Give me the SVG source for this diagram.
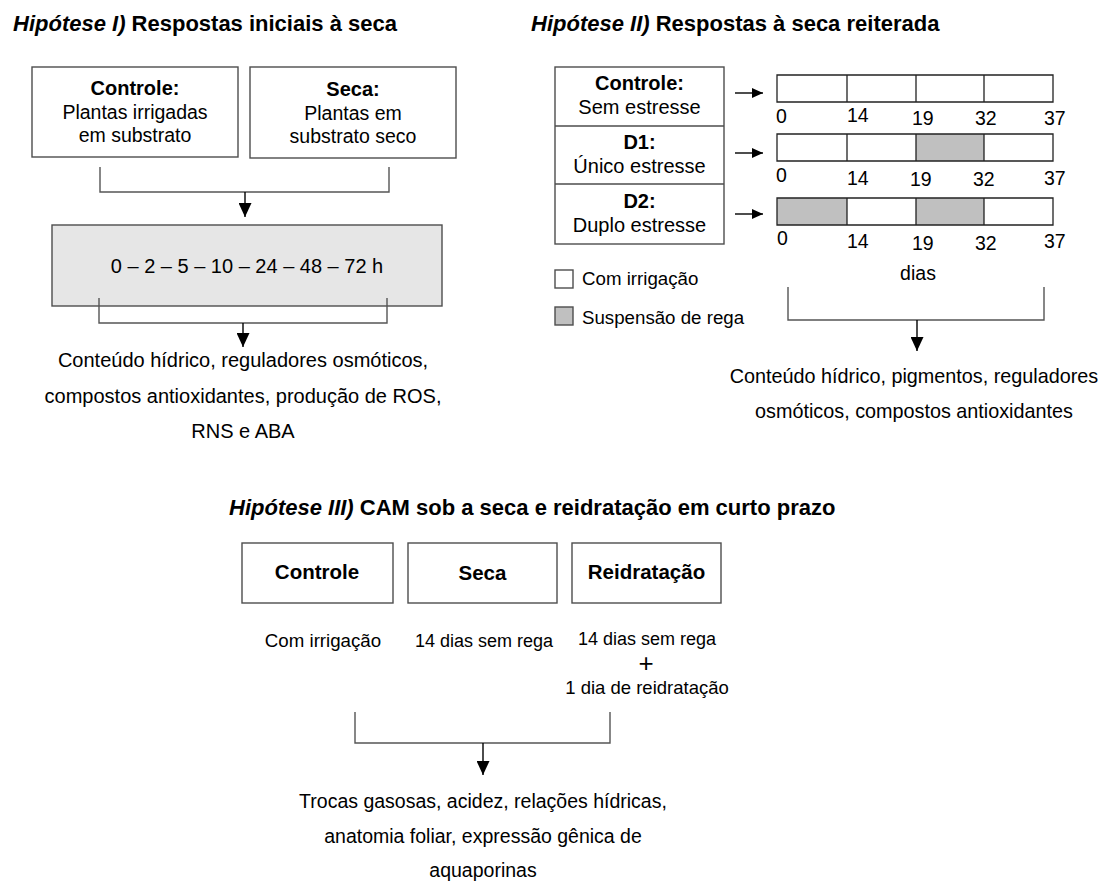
<svg xmlns="http://www.w3.org/2000/svg" width="1102" height="883" viewBox="0 0 1102 883">
<style>
text{font-family:"Liberation Sans",Arial,sans-serif;fill:#000}
.t{font-size:22px;font-weight:bold}
.i{font-style:italic}
.b{font-weight:bold}
.c{text-anchor:middle}
.box{fill:#fff;stroke:#4d4d4d;stroke-width:1.4}
.bar{fill:none;stroke:#222;stroke-width:1.3}
.g{fill:#c0c0c0}
.ln{fill:none;stroke:#555;stroke-width:1.4}
.ar{fill:none;stroke:#000;stroke-width:1.4}
</style>
<defs>
<marker id="ah" markerUnits="userSpaceOnUse" markerWidth="14" markerHeight="13" viewBox="0 0 14 13" refX="14" refY="6.5" orient="auto"><path d="M0,0 L14,6.5 L0,13 z" fill="#000"/></marker>
<marker id="as" markerUnits="userSpaceOnUse" markerWidth="11" markerHeight="10" viewBox="0 0 11 10" refX="11" refY="5" orient="auto"><path d="M0,0 L11,5 L0,10 z" fill="#000"/></marker>
</defs>

<!-- Titles -->
<text class="t" x="13" y="31"><tspan class="i">Hipótese I)</tspan> Respostas iniciais à seca</text>
<text class="t" x="531" y="31"><tspan class="i">Hipótese II)</tspan> Respostas à seca reiterada</text>
<text class="t" x="229" y="515"><tspan class="i">Hipótese III)</tspan> CAM sob a seca e reidratação em curto prazo</text>

<!-- Hypothesis I nodes -->
<g id="h1-controle">
<rect class="box" x="32" y="67" width="206" height="90"/>
<text class="c b" x="135" y="95" font-size="20">Controle:</text>
<text class="c" x="135" y="119" font-size="19.5">Plantas irrigadas</text>
<text class="c" x="135" y="142" font-size="19.5">em substrato</text>
</g>
<g id="h1-seca">
<rect class="box" x="250" y="67" width="206" height="91"/>
<text class="c b" x="353" y="96" font-size="20">Seca:</text>
<text class="c" x="353" y="120" font-size="19.5">Plantas em</text>
<text class="c" x="353" y="143" font-size="19.5">substrato seco</text>
</g>
<g id="h1-tempos">
<rect class="box" x="52" y="225" width="390" height="81" style="fill:#e6e6e6"/>
<text class="c" x="247" y="273" font-size="20">0 – 2 – 5 – 10 – 24 – 48 – 72 h</text>
</g>
<g id="h1-resultado">
<text class="c" x="243" y="367" font-size="20">Conteúdo hídrico, reguladores osmóticos,</text>
<text class="c" x="243" y="403" font-size="20">compostos antioxidantes, produção de ROS,</text>
<text class="c" x="243" y="438" font-size="20">RNS e ABA</text>
</g>

<!-- Hypothesis II nodes -->
<g id="h2-tratamentos">
<rect class="box" x="555" y="67" width="169" height="177"/>
<line class="ln" x1="555" y1="126" x2="724" y2="126" style="stroke:#4d4d4d"/>
<line class="ln" x1="555" y1="184" x2="724" y2="184" style="stroke:#4d4d4d"/>
<text class="c b" x="639.5" y="90" font-size="20">Controle:</text>
<text class="c" x="639.5" y="114" font-size="20">Sem estresse</text>
<text class="c b" x="639.5" y="149" font-size="20">D1:</text>
<text class="c" x="639.5" y="173" font-size="20">Único estresse</text>
<text class="c b" x="639.5" y="208" font-size="20">D2:</text>
<text class="c" x="639.5" y="232" font-size="20">Duplo estresse</text>
</g>
<g id="h2-bar-controle">
<rect x="777" y="75" width="276" height="27" fill="#fff"/>
<path class="bar" d="M777 75 H1053 V102 H777 Z M847 75 V102 M916 75 V102 M984 75 V102"/>
<g font-size="19.5"><text x="776" y="123">0</text><text x="847" y="122">14</text><text x="912" y="125">19</text><text x="975" y="125">32</text><text x="1044" y="125">37</text></g>
</g>
<g id="h2-bar-d1">
<rect x="777" y="134" width="276" height="27" fill="#fff"/>
<rect class="g" x="916" y="134" width="68" height="27"/>
<path class="bar" d="M777 134 H1053 V161 H777 Z M847 134 V161 M916 134 V161 M984 134 V161"/>
<g font-size="19.5"><text x="776" y="182">0</text><text x="847" y="185">14</text><text x="910" y="186">19</text><text x="973" y="186">32</text><text x="1044" y="185">37</text></g>
</g>
<g id="h2-bar-d2">
<rect x="777" y="198" width="276" height="27" fill="#fff"/>
<rect class="g" x="777" y="198" width="70" height="27"/>
<rect class="g" x="916" y="198" width="68" height="27"/>
<path class="bar" d="M777 198 H1053 V225 H777 Z M847 198 V225 M916 198 V225 M984 198 V225"/>
<g font-size="19.5"><text x="777" y="245">0</text><text x="847" y="248">14</text><text x="912" y="250">19</text><text x="975" y="250">32</text><text x="1044" y="248">37</text></g>
</g>
<g id="h2-dias">
<text class="c" x="918" y="280" font-size="19.5">dias</text>
</g>
<g id="h2-legenda">
<rect class="box" x="555" y="270" width="18" height="18"/>
<text x="582" y="285" font-size="18.7">Com irrigação</text>
<rect class="box" x="555" y="307" width="18" height="18" style="fill:#c0c0c0"/>
<text x="582" y="324" font-size="18.7">Suspensão de rega</text>
</g>
<g id="h2-resultado">
<text class="c" x="914" y="383" font-size="19.8">Conteúdo hídrico, pigmentos, reguladores</text>
<text class="c" x="914" y="418" font-size="19.8">osmóticos, compostos antioxidantes</text>
</g>

<!-- Hypothesis III nodes -->
<g id="h3-controle">
<rect class="box" x="242" y="543" width="151" height="60"/>
<text class="c b" x="317" y="579" font-size="20.5">Controle</text>
<text class="c" x="323" y="647" font-size="18.7">Com irrigação</text>
</g>
<g id="h3-seca">
<rect class="box" x="408" y="543" width="149" height="60"/>
<text class="c b" x="482.5" y="580" font-size="20.5">Seca</text>
<text class="c" x="484" y="647" font-size="18">14 dias sem rega</text>
</g>
<g id="h3-reidratacao">
<rect class="box" x="572" y="543" width="149" height="60"/>
<text class="c b" x="646.5" y="579" font-size="20.5">Reidratação</text>
<text class="c" x="647" y="645" font-size="18">14 dias sem rega</text>
<text class="c" x="646" y="672" font-size="26">+</text>
<text class="c" x="647" y="694" font-size="18.5">1 dia de reidratação</text>
</g>
<g id="h3-resultado">
<text class="c" x="483" y="808" font-size="19.5">Trocas gasosas, acidez, relações hídricas,</text>
<text class="c" x="483" y="843" font-size="19.5">anatomia foliar, expressão gênica de</text>
<text class="c" x="483" y="877" font-size="19.5">aquaporinas</text>
</g>

<!-- Connectors -->
<g id="connectors">
<path class="ln" d="M100 167 V192 H389 V167"/>
<path class="ar" d="M245 192 V217" marker-end="url(#ah)"/>
<path class="ln" d="M99 298 V323 H387 V298"/>
<path class="ar" d="M243 323 V347" marker-end="url(#ah)"/>
<path class="ar" d="M735 93 H763" marker-end="url(#as)"/>
<path class="ar" d="M735 153 H763" marker-end="url(#as)"/>
<path class="ar" d="M735 214 H763" marker-end="url(#as)"/>
<path class="ln" d="M788 287 V320 H1044 V287"/>
<path class="ar" d="M917 320 V351" marker-end="url(#ah)"/>
<path class="ln" d="M355 712 V743 H610 V712"/>
<path class="ar" d="M483 743 V775" marker-end="url(#ah)"/>
</g>
</svg>
